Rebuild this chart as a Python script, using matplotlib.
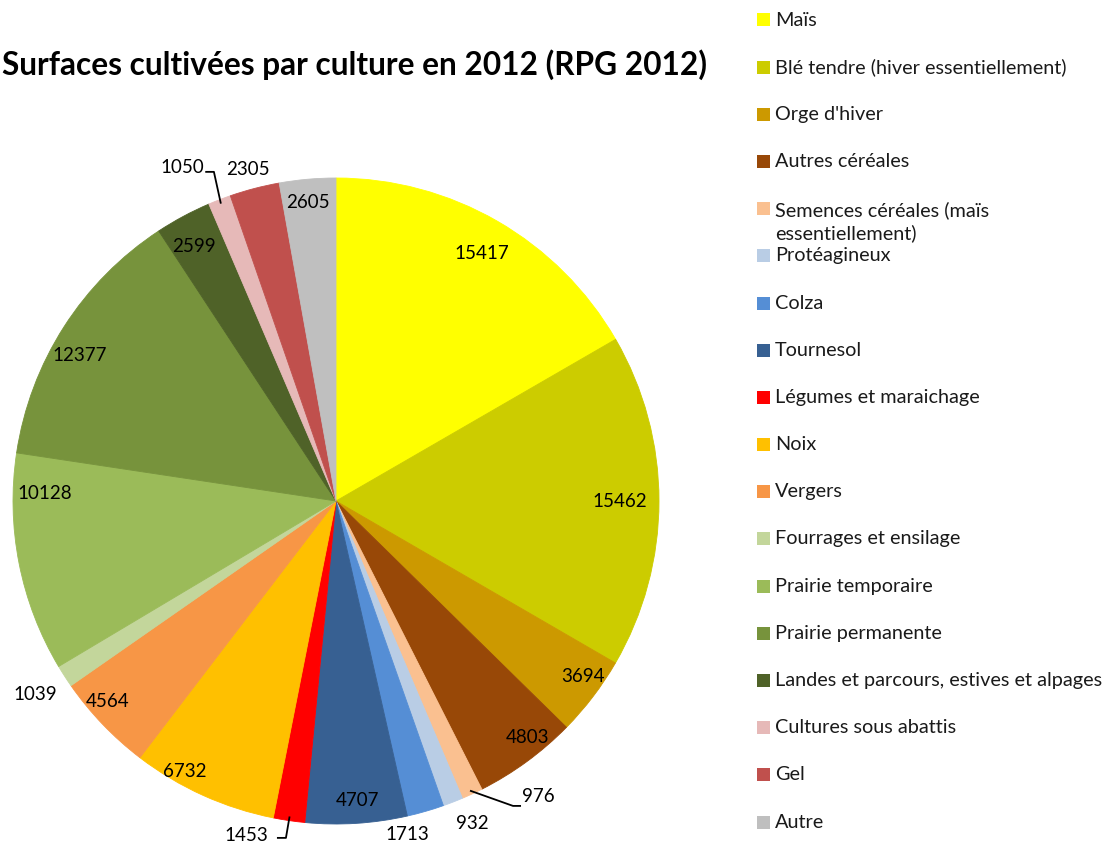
import numpy as np
import matplotlib.pyplot as plt
from matplotlib.patches import Rectangle

plt.rcParams['font.family'] = ['Lato', 'DejaVu Sans']

cultures = ["Maïs", "Blé tendre (hiver essentiellement)", "Orge d'hiver", "Autres céréales",
            "Semences céréales (maïs\nessentiellement)", "Protéagineux", "Colza", "Tournesol",
            "Légumes et maraichage", "Noix", "Vergers", "Fourrages et ensilage",
            "Prairie temporaire", "Prairie permanente", "Landes et parcours, estives et alpages",
            "Cultures sous abattis", "Gel", "Autre"]
surfaces = [15417, 15462, 3694, 4803, 976, 932, 1713, 4707, 1453,
            6732, 4564, 1039, 10128, 12377, 2599, 1050, 2305, 2605]
couleurs = ['#FFFF00', '#CCCC00', '#CC9900', '#984807', '#FAC090', '#B9CDE5',
            '#558ED5', '#376092', '#FF0000', '#FFC000', '#F79646', '#C3D69B',
            '#9BBB59', '#77933C', '#4F6228', '#E6B9B8', '#C0504D', '#BFBFBF']

# label anchors (data coords, pie radius = 1) and horizontal alignment
label_xy = [(0.452, 0.765), (0.879, -0.003), (0.765, -0.542), (0.594, -0.731),
            (0.576, -0.916), (0.421, -0.997), (0.220, -1.034), (0.068, -0.926),
            (-0.211, -1.037), (-0.467, -0.836), (-0.706, -0.622), (-0.932, -0.598),
            (-0.901, 0.022), (-0.793, 0.449), (-0.440, 0.789), (-0.409, 1.031),
            (-0.272, 1.025), (-0.087, 0.923)]
label_ha = {4: 'left', 8: 'right', 15: 'right'}
# leader lines: slice index -> elbow and end points
leaders = {4: [(0.548, -0.944), (0.570, -0.944)],
           8: [(-0.155, -1.043), (-0.180, -1.043)],
           15: [(-0.378, 1.019), (-0.402, 1.019)]}

W, H = 1109, 847
fig = plt.figure(figsize=(W / 100, H / 100), dpi=100)

cx, cy, R = 336, 501, 323
lim = 1.15
side = 2 * lim * R
ax = fig.add_axes([(cx - side / 2) / W, (H - cy - side / 2) / H, side / W, side / H])
wedges, _ = ax.pie(surfaces, colors=couleurs, startangle=90, counterclock=False,
                   wedgeprops=dict(linewidth=0.6, edgecolor='none'))
for w, c in zip(wedges, couleurs):
    w.set_edgecolor(c)
ax.set_xlim(-lim, lim)
ax.set_ylim(-lim, lim)
ax.set_aspect('equal')
ax.axis('off')

total = sum(surfaces)
cum = np.cumsum([0] + surfaces)
for i, v in enumerate(surfaces):
    x, y = label_xy[i]
    ax.text(x, y, str(v), ha=label_ha.get(i, 'center'), va='center',
            fontsize=13.5, color='black', clip_on=False)
    if i in leaders:
        theta = np.deg2rad((cum[i] + v / 2) / total * 360)
        pts = [(0.99 * np.sin(theta), 0.99 * np.cos(theta))] + leaders[i]
        xs, ys = zip(*pts)
        ax.plot(xs, ys, color='black', lw=1.3, clip_on=False)

fig.text(2 / W, 1 - 65 / H, "Surfaces cultivées par culture en 2012 (RPG 2012)",
         ha='left', va='center', fontsize=22.8, fontweight='bold')

# legend
top, step = 20, (822 - 20) / 17
for i, (lab, col) in enumerate(zip(cultures, couleurs)):
    yc = top + i * step
    fig.patches.append(Rectangle((757 / W, 1 - (yc + 6.5) / H), 13 / W, 13 / H,
                                 transform=fig.transFigure, facecolor=col, edgecolor='none'))
    nl = lab.count('\n')
    fig.text(775 / W, 1 - (yc + 13 * nl) / H, lab, ha='left', va='center',
             fontsize=14.3, linespacing=1.3, color='#1a1a1a')

fig.savefig('out.png', dpi=100)
